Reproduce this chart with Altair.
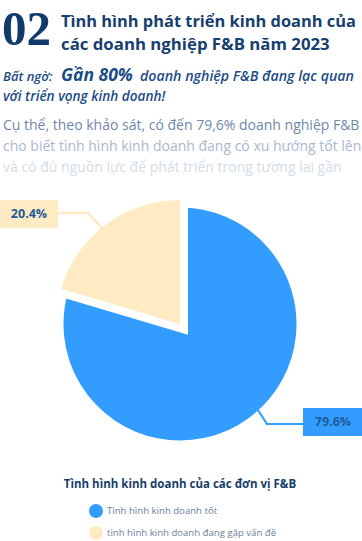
import altair as alt
import pandas as pd

# ---- data ----
categories = ["Tình hình kinh doanh tốt", "tình hình kinh doanh đang gặp vấn đề"]
values = [79.6, 20.4]
order_idx = [0, 1]
label_texts = ["79.6%", "20.4%"]

BLUE = "#339dff"
CREAM = "#feebc3"
NAVY = "#16406f"
FONT = "Open Sans"

W, H = 362, 541
CX, CY = 180, 324

pie_df = pd.DataFrame({"category": categories, "value": values, "idx": order_idx})

color_scale = alt.Scale(domain=categories, range=[BLUE, CREAM])

base = alt.Chart(pie_df)

# blue slice: white stroke gives the parallel gap
blue_arc = base.mark_arc(stroke="white", strokeWidth=16, strokeJoin="miter").encode(
    theta=alt.Theta("value:Q", stack=True),
    order=alt.Order("idx:Q"),
    detail="category:N",
    fill=alt.value(BLUE),
    opacity=alt.condition("datum.idx == 0", alt.value(1), alt.value(0)),
    x=alt.value(CX), y=alt.value(CY),
    radius=alt.value(124.5),
)

cream_arc = base.mark_arc().encode(
    theta=alt.Theta("value:Q", stack=True),
    order=alt.Order("idx:Q"),
    color=alt.Color(
        "category:N", scale=color_scale, sort=categories,
        legend=alt.Legend(
            title=None, orient="none", legendX=89, legendY=504,
            symbolType="circle", symbolSize=196, symbolOpacity=1,
            symbolStrokeWidth=0, labelLimit=400,
            labelFont=FONT, labelFontSize=9.6, labelColor="#6b7f9b",
            labelOffset=4, rowPadding=8, padding=0,
        ),
    ),
    opacity=alt.condition("datum.idx == 1", alt.value(1), alt.value(0)),
    x=alt.value(CX), y=alt.value(CY),
    radius=alt.value(124),
)


def txt(s, x, y, size, color, weight="normal", style="normal", font=FONT, align="left"):
    return alt.Chart(pd.DataFrame({"t": [s]})).mark_text(
        align=align, baseline="alphabetic", fontSize=size, font=font,
        fontWeight=weight, fontStyle=style, color=color,
    ).encode(text="t:N", x=alt.value(x), y=alt.value(y))


def rule(x1, y1, x2, y2, color, w):
    return alt.Chart(pd.DataFrame({"a": [0]})).mark_rule(color=color, strokeWidth=w, strokeCap="square").encode(
        x=alt.value(x1), y=alt.value(y1), x2=alt.value(x2), y2=alt.value(y2)
    )


def box(x1, y1, x2, y2, color):
    return alt.Chart(pd.DataFrame({"a": [0]})).mark_rect(color=color).encode(
        x=alt.value(x1), y=alt.value(y1), x2=alt.value(x2), y2=alt.value(y2)
    )


SUB = "#1c4c85"
header = [
    txt("02", 2, 45, 49, "#0f3a6b", weight="bold", font="Liberation Serif"),
    txt("Tình hình phát triển kinh doanh của", 61, 27, 16.4, NAVY, weight="bold"),
    txt("các doanh nghiệp F&B năm 2023", 61, 50, 16.8, NAVY, weight="bold"),
    txt("Bất ngờ:", 3, 81, 13, SUB, weight=600, style="italic"),
    txt("Gần 80%", 61, 81, 17.5, SUB, weight="bold", style="italic"),
    txt("doanh nghiệp F&B đang lạc quan", 140, 81, 14.2, SUB, weight=600, style="italic"),
    txt("với triển vọng kinh doanh!", 3, 101, 13.6, SUB, weight=600, style="italic"),
    txt("Cụ thể, theo khảo sát, có đến 79,6% doanh nghiệp F&B", 3, 130, 14, "#7088aa"),
    txt("cho biết tình hình kinh doanh đang có xu hướng tốt lên", 3, 151, 14, "#a9b9cf"),
    txt("và có đủ nguồn lực để phát triển trong tương lai gần", 3, 172, 14, "#d3dce8"),
]

lab_df = pd.DataFrame({"category": categories, "value": values, "lab": label_texts, "idx": order_idx})

labels = [
    rule(58, 213, 88, 213, CREAM, 2.5),
    rule(88, 213, 101, 227, CREAM, 2.5),
    rule(258, 410, 267, 424, BLUE, 2),
    rule(267, 424, 303, 424, BLUE, 2),
    box(0, 200, 58, 228, CREAM),
    box(303, 408, 362, 436, BLUE),
    alt.Chart(lab_df).transform_filter("datum.idx == 1").mark_text(
        fontSize=12.5, fontWeight="bold", font=FONT, color="#1f5a99"
    ).encode(text="lab:N", x=alt.value(29), y=alt.value(214)),
    alt.Chart(lab_df).transform_filter("datum.idx == 0").mark_text(
        fontSize=12.5, fontWeight="bold", font=FONT, color="#1f5a99"
    ).encode(text="lab:N", x=alt.value(333), y=alt.value(422)),
]

legend_title = txt("Tình hình kinh doanh của các đơn vị F&B", 180, 488, 11.5, "#173e6c",
                   weight="bold", align="center")

chart = alt.layer(
    blue_arc, cream_arc, *labels, *header, legend_title
).properties(
    width=W, height=H, padding=0, autosize="none", background="white"
).configure_view(stroke=None)

chart.save("out.html", embed_options={"renderer": "svg", "actions": False})
